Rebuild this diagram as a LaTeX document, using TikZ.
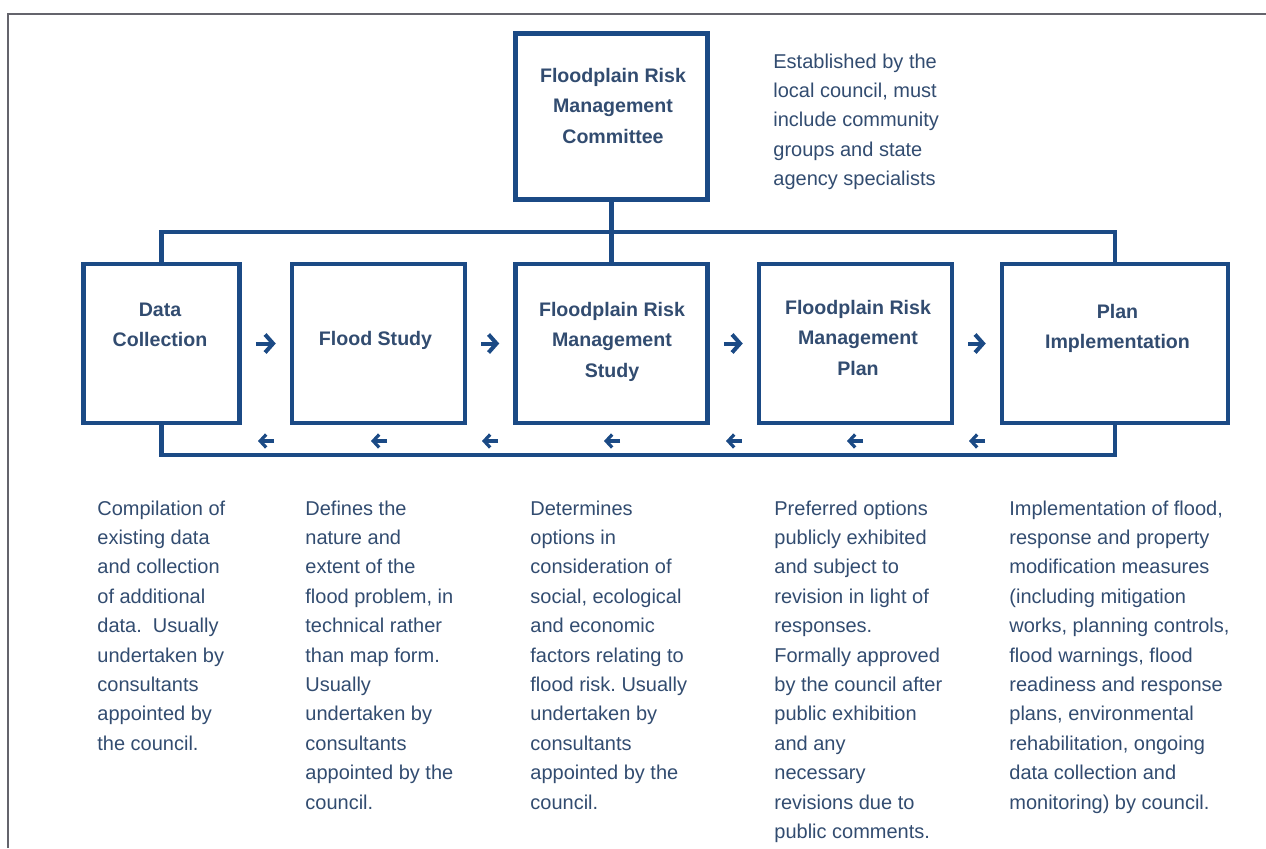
\documentclass[tikz,border=0pt]{standalone}
\usepackage{fontspec}
\setmainfont{Liberation Sans}
\usetikzlibrary{arrows.meta, calc}
\definecolor{frmblue}{RGB}{27,74,133}
\definecolor{frmtext}{RGB}{50,76,112}
\definecolor{framegray}{RGB}{100,100,108}
\frenchspacing

\begin{document}
\begin{tikzpicture}[
    x=0.5pt, y=-0.5pt,
    % Define styles for reusable components
    % (multi-line texts are placed by the baseline of their last line)
    stage/.style={draw=frmblue, line width=2.25pt, fill=white, minimum height=79.5pt, inner sep=0pt},
    stagetitle/.style={anchor=base, align=center, text=frmtext, inner sep=0pt,
        font=\fontsize{9.8pt}{15.3pt}\selectfont\bfseries},
    descr/.style={anchor=base west, align=left, text=frmtext, inner sep=0pt,
        font=\fontsize{10pt}{14.7pt}\selectfont},
    bus/.style={draw=frmblue, line width=2.25pt},
    fwd/.style={draw=frmblue, line width=2pt, -{Straight Barb[length=4pt, width=9pt]},
        shorten <=7pt, shorten >=7pt},
    back/.style={draw=frmblue, line width=1.6pt, -{Straight Barb[length=3pt, width=6.5pt]}}
]
    \useasboundingbox (0,0) rectangle (1266,848);

    % --- PAGE FRAME ---
    \draw[framegray, line width=1pt] (7.5,848) -- (7.5,13.5) -- (1266,13.5);

    % --- COMMITTEE ---
    \node[stage, minimum width=96pt, minimum height=83pt] (com) at (611.5,116.5) {};
    \node[stagetitle] (comtitle) at (613,143.2) {Floodplain Risk\\Management\\Committee};
    \node[descr] (comnote) at (773,185.6) {Established by the\\local council, must\\include community\\groups and state\\agency specialists};

    % --- PROCESS STAGES ---
    \node[stage, minimum width=78pt] (dc) at (161.5,343.5) {};
    \node[stage, minimum width=86.5pt] (fs) at (378.5,343.5) {};
    \node[stage, minimum width=96pt] (frs) at (611.5,343.5) {};
    \node[stage, minimum width=96.5pt] (frp) at (855.5,343.5) {};
    \node[stage, minimum width=113pt] (pi) at (1115,343.5) {};

    \node[stagetitle] (dctitle) at (160,346.6) {Data\\Collection};
    \node[stagetitle] (fstitle) at (375.5,345) {Flood Study};
    \node[stagetitle] (frstitle) at (612,377.2) {Floodplain Risk\\Management\\Study};
    \node[stagetitle] (frptitle) at (858,375.2) {Floodplain Risk\\Management\\Plan};
    \node[stagetitle] (pititle) at (1117.5,348.6) {Plan\\Implementation};

    % --- CONNECTING LINES ---
    \coordinate (topbus) at (611.5,232);
    \coordinate (botbus) at (611.5,455);
    \draw[bus] (com.south) -- (frs.north);
    \draw[bus] (dc.north) |- (topbus) -| (pi.north);
    \draw[bus] (dc.south) |- (botbus) -| (pi.south);

    % Forward arrows between stages
    \draw[fwd] (dc.east) -- (fs.west);
    \draw[fwd] (fs.east) -- (frs.west);
    \draw[fwd] (frs.east) -- (frp.west);
    \draw[fwd] (frp.east) -- (pi.west);

    % Feedback arrows above the lower line
    \foreach \x in {266,379,490,612,734,855,977}
        \draw[back] (\x+8,441) -- (\x-8,441);

    % --- DESCRIPTIONS ---
    \node[descr] (dcnote) at (97,750.2) {Compilation of\\existing data\\and collection\\of additional\\data.\ \ Usually\\undertaken by\\consultants\\appointed by\\the council.};
    \node[descr] (fsnote) at (305,809) {Defines the\\nature and\\extent of the\\flood problem, in\\technical rather\\than map form.\\Usually\\undertaken by\\consultants\\appointed by the\\council.};
    \node[descr] (frsnote) at (530,809) {Determines\\options in\\consideration of\\social, ecological\\and economic\\factors relating to\\flood risk. Usually\\undertaken by\\consultants\\appointed by the\\council.};
    \node[descr] (frpnote) at (774,838.4) {Preferred options\\publicly exhibited\\and subject to\\revision in light of\\responses.\\Formally approved\\by the council after\\public exhibition\\and any\\necessary\\revisions due to\\public comments.};
    \node[descr] (pinote) at (1009,809) {Implementation of flood,\\response and property\\modification measures\\(including mitigation\\works, planning controls,\\flood warnings, flood\\readiness and response\\plans, environmental\\rehabilitation, ongoing\\data collection and\\monitoring) by council.};

\end{tikzpicture}
\end{document}
